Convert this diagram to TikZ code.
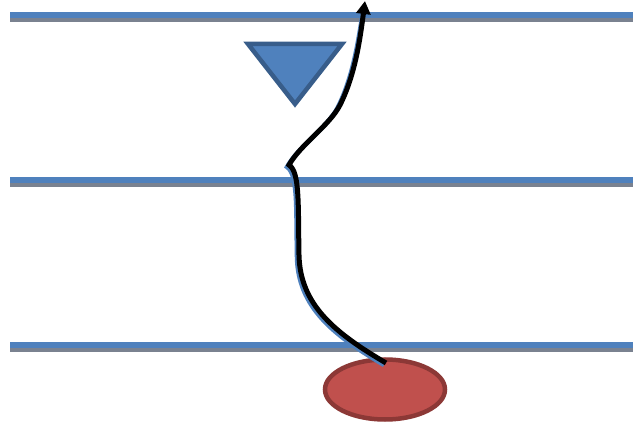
\documentclass[tikz,border=0pt]{standalone}
\usetikzlibrary{arrows.meta,shapes.geometric}
\definecolor{lblue}{HTML}{4F81BD}
\definecolor{dblue}{HTML}{385D8A}
\definecolor{lred}{HTML}{C0504D}
\definecolor{dred}{HTML}{8C3836}
\definecolor{shgray}{HTML}{7A8290}
\tikzset{
  level/.style={draw=lblue,line width=6pt},
  levelsh/.style={draw=shgray,line width=5pt},
  flow/.style={draw=black,line width=5pt,-{Triangle[length=13pt,width=14pt]}},
}
\begin{document}
\begin{tikzpicture}[x=1pt,y=-1pt]
\useasboundingbox (0,0) rectangle (633,425);
% levels
\foreach \yy/\nm in {15/a,180/b,345/c}{
  \coordinate (\nm L) at (10,\yy);
  \coordinate (\nm R) at (633,\yy);
  \draw[levelsh] ([yshift=-5pt]\nm L) -- ([yshift=-5pt]\nm R);
  \draw[level] (\nm L) -- (\nm R);
}
% triangle
\draw[draw=dblue,fill=lblue,line width=4.5pt,line join=miter] (248,44) -- (342,44) -- (295,104) -- cycle;
% ellipse
\node[ellipse,draw=dred,fill=lred,line width=4.5pt,minimum width=120pt,minimum height=60pt,inner sep=0pt] (src) at (385,389.5) {};
\coordinate (tip) at (365,1);
\coordinate (st) at (386,363);
% shadow
\draw[draw=lblue,line width=4.5pt] ([xshift=-2pt,yshift=-2pt]st) .. controls (333,335) and (298,307) .. (297,257) .. controls (296,207) and (298,174) .. (287,167) .. controls (298,147) and (328,127) .. (338,107) .. controls (353,77) and (358,42) .. (362,18);
% flow path
\draw[flow] (st) .. controls (335,333) and (300,305) .. (299,255) .. controls (298,205) and (300,172) .. (289,165) .. controls (300,145) and (330,125) .. (340,105) .. controls (355,75) and (360,40) .. (tip);
\end{tikzpicture}
\end{document}
